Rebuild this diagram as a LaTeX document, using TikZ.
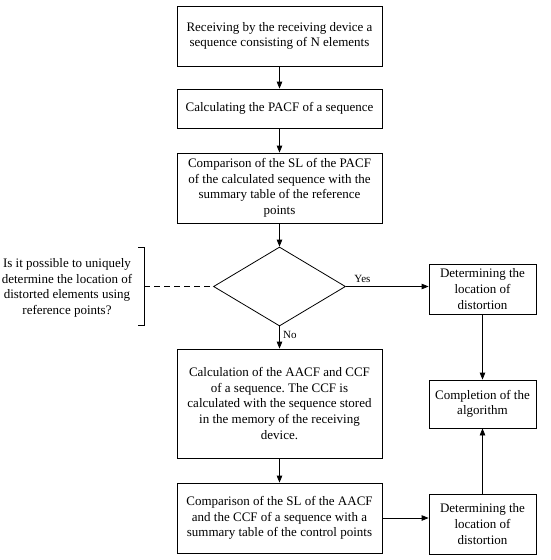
\documentclass[tikz,border=0pt]{standalone}
\usepackage{fontspec}
\setmainfont{Liberation Serif}
\frenchspacing
\usetikzlibrary{arrows.meta,shapes.geometric}
\begin{document}
\begin{tikzpicture}[x=1pt,y=-1pt,
  font=\fontsize{13}{15.6}\selectfont,
  box/.style={draw,line width=0.8pt,align=center,inner sep=2pt,minimum width=205pt},
  rbox/.style={draw,line width=0.8pt,align=center,inner sep=2pt,minimum width=107pt},
  arr/.style={line width=0.8pt,-{Triangle[length=7pt,width=5.5pt]}},
  lbl/.style={font=\fontsize{11}{12}\selectfont}]
\useasboundingbox (0,0) rectangle (550,560);
\node[box,minimum height=60pt] (b1) at (279.5,36) {Receiving by the receiving device a\\sequence consisting of N elements};
\node[box,minimum height=39pt] (b2) at (279.5,108.5) {Calculating the PACF of a sequence};
\node[box,minimum height=70pt] (b3) at (279.5,188) {Comparison of the SL of the PACF\\of the calculated sequence with the\\summary table of the reference\\points};
\node[diamond,draw,line width=0.8pt,minimum width=132pt,minimum height=79pt,inner sep=0pt] (d) at (279.5,286.5) {};
\node[box,minimum height=109pt] (b4) at (279.5,403.5) {Calculation of the AACF and CCF\\of a sequence. The CCF is\\calculated with the sequence stored\\in the memory of the receiving\\device.};
\node[box,minimum height=70pt] (b5) at (279.5,518) {Comparison of the SL of the AACF\\and the CCF of a sequence with a\\summary table of the control points};
\node[rbox,minimum height=50pt] (r1) at (482.5,289) {Determining the\\location of\\distortion};
\node[rbox,minimum height=48pt] (r2) at (482.5,404) {Completion of the\\algorithm};
\node[rbox,minimum height=60pt] (r3) at (482.5,524) {Determining the\\location of\\distortion};
\node[align=center] (q) at (67,288) {Is it possible to uniquely\\determine the location of\\distorted elements using\\reference points?};
\coordinate (bt) at (138,247);
\coordinate (bb) at (138,325);
\coordinate (bm) at (144,286.5);
\draw[line width=0.8pt] (bt) -- ++(6,0) -- ([xshift=6pt]bb) -- (bb);
\draw[line width=0.8pt,dash pattern=on 6pt off 4pt] (bm) -- (d.west);
\draw[arr] (b1) -- (b2);
\draw[arr] (b2) -- (b3);
\draw[arr] (b3) -- (d);
\draw[arr] (d) -- node[lbl,right,pos=0.4]{No} (b4);
\draw[arr] (b4) -- (b5);
\draw[arr] (d.east) -- node[lbl,above,pos=0.2]{Yes} (d.east -| r1.west);
\draw[arr] (r1) -- (r2);
\draw[arr] (b5.east) -- (b5.east -| r3.west);
\draw[arr] (r3) -- (r2);
\end{tikzpicture}
\end{document}
